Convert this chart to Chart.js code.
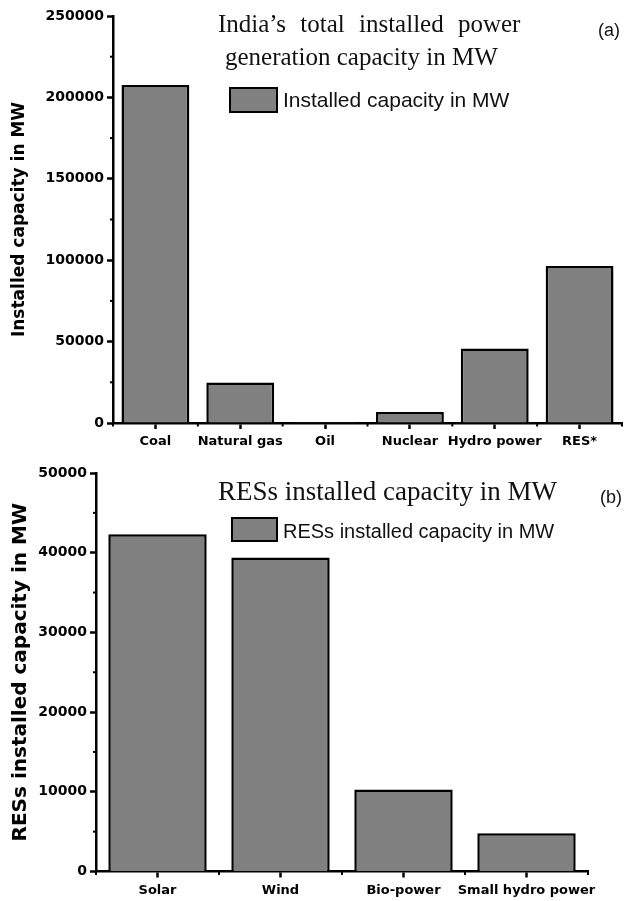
<!DOCTYPE html>
<html lang="en">
<head>
<meta charset="UTF-8">
<title>India installed power capacity</title>
<script src="https://cdn.jsdelivr.net/npm/chart.js"></script>
<style>
  body { margin: 0; background: #fff; }
  #wrap { position: relative; width: 625px; height: 901px; overflow: hidden; }
  .cv { position: absolute; left: 0; }
  .t { position: absolute; white-space: nowrap; line-height: 1; color: #111; }
  .serif { font-family: "Liberation Serif", "Times New Roman", serif; }
  .sans { font-family: "Liberation Sans", Arial, sans-serif; }
  .box { position: absolute; background: #808080; border: 2px solid #000; box-sizing: border-box; }
</style>
</head>
<body>
<div id="wrap">
  <div class="cv" style="top:0;width:625px;height:452px"><canvas id="chartA"></canvas></div>
  <div class="cv" style="top:452px;width:625px;height:449px"><canvas id="chartB"></canvas></div>

  <div class="t serif" style="left:218px;top:11px;font-size:25px;word-spacing:8px">India’s total installed power</div>
  <div class="t serif" style="left:225px;top:44px;font-size:25px">generation capacity in MW</div>
  <div class="box" style="left:229px;top:87px;width:49px;height:26px"></div>
  <div class="t sans" style="left:283px;top:89px;font-size:21px">Installed capacity in MW</div>
  <div class="t sans" style="left:598px;top:21px;font-size:18px">(a)</div>

  <div class="t serif" style="left:218px;top:478px;font-size:27px">RESs installed capacity in MW</div>
  <div class="box" style="left:231px;top:517px;width:47px;height:25px"></div>
  <div class="t sans" style="left:283px;top:521px;font-size:20px">RESs installed capacity in MW</div>
  <div class="t sans" style="left:600px;top:488px;font-size:18px">(b)</div>
</div>

<script>
// panel (a): total installed capacity, MW
const sourcesA = ['Coal', 'Natural gas', 'Oil', 'Nuclear', 'Hydro power', 'RES*'];
const capacityA = [207600, 24900, 640, 6780, 45700, 96400];
const yMaxA = 250000;

// panel (b): renewable sources, MW
const sourcesB = ['Solar', 'Wind', 'Bio-power', 'Small hydro power'];
const capacityB = [42300, 39400, 10300, 4800];
const yMaxB = 50000;

const barGrey = '#808080';
const tickFont = { family: 'DejaVu Sans', weight: 'bold', size: 14 };
const catFont = { family: 'DejaVu Sans', weight: 'bold', size: 13 };

// short ticks between the labelled ones
const minorTicks = {
  id: 'minorTicks',
  afterDraw(chart, args, opts) {
    const { ctx } = chart;
    const x = chart.scales.x, y = chart.scales.y;
    ctx.save();
    ctx.strokeStyle = '#000';
    ctx.lineWidth = 2;
    for (let v = opts.step / 2; v < y.max; v += opts.step) {
      const py = y.getPixelForValue(v);
      ctx.beginPath(); ctx.moveTo(y.right - 3, py); ctx.lineTo(y.right, py); ctx.stroke();
    }
    const n = chart.data.labels.length;
    for (let i = 0; i <= n; i++) {
      const px = x.getPixelForValue(i - 0.5);
      ctx.beginPath(); ctx.moveTo(px, x.top); ctx.lineTo(px, x.top + 3.5); ctx.stroke();
    }
    ctx.restore();
  }
};

function makeChart(id, labels, values, yMax, step, title, titleSize, pad, yWidth, xHeight) {
  return new Chart(document.getElementById(id), {
    type: 'bar',
    data: {
      labels: labels,
      datasets: [{
        data: values,
        backgroundColor: barGrey,
        borderColor: '#000',
        borderWidth: 2.5,
        barPercentage: 0.8,
        categoryPercentage: 1.0
      }]
    },
    options: {
      responsive: true,
      maintainAspectRatio: false,
      animation: false,
      layout: { padding: pad },
      plugins: {
        legend: { display: false },
        tooltip: { enabled: false },
        minorTicks: { step: step }
      },
      scales: {
        x: {
          offset: true,
          grid: { offset: false, drawOnChartArea: false, tickLength: 6, tickWidth: 2.5, tickColor: '#000' },
          border: { color: '#000', width: 2.5 },
          ticks: { color: '#000', font: catFont, padding: 5, maxRotation: 0, autoSkip: false },
          afterFit: s => { s.height = xHeight; }
        },
        y: {
          min: 0,
          max: yMax,
          grid: { drawOnChartArea: false, tickLength: 6, tickWidth: 2.5, tickColor: '#000' },
          border: { color: '#000', width: 2.5 },
          ticks: { stepSize: step, color: '#000', font: tickFont, padding: 3,
                   callback: v => String(v) },
          title: {
            display: true,
            text: title,
            color: '#000',
            font: { family: 'DejaVu Sans', weight: 'bold', size: titleSize },
            padding: { top: 9, bottom: 0 }
          },
          afterFit: s => { s.width = yWidth; }
        }
      }
    },
    plugins: [minorTicks]
  });
}

makeChart('chartA', sourcesA, capacityA, yMaxA, 50000, 'Installed capacity in MW', 17,
  { top: 16, right: 3, left: 0, bottom: 0 }, 113, 29);
makeChart('chartB', sourcesB, capacityB, yMaxB, 10000, 'RESs installed capacity in MW', 20,
  { top: 21, right: 37, left: 0, bottom: 0 }, 96, 29.5);
</script>
</body>
</html>
